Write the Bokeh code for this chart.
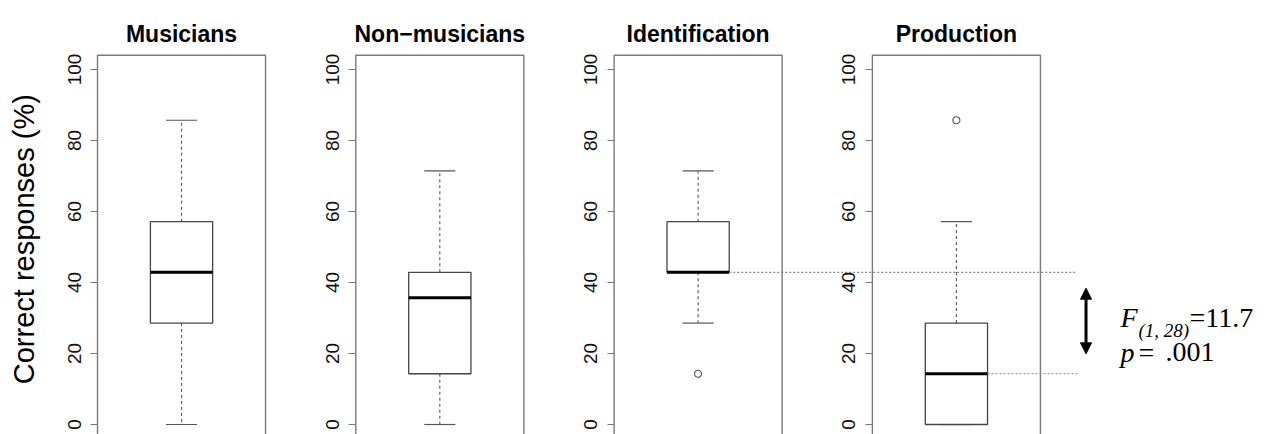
import math
from bokeh.plotting import figure
from bokeh.models import Range1d, LinearAxis, FixedTicker, Label, Arrow, NormalHead
from bokeh.core.properties import value
from bokeh.embed import file_html
from bokeh.resources import INLINE

# ---------------- data ----------------
groups = ["Musicians", "Non\u2212musicians", "Identification", "Production"]
whisker_low = [0.0, 0.0, 28.57, 0.0]
q1 = [28.57, 14.29, 42.86, 0.0]
median = [42.86, 35.71, 42.86, 14.29]
q3 = [57.14, 42.86, 57.14, 28.57]
whisker_high = [85.71, 71.43, 71.43, 57.14]
outlier_panel = [2, 3]
outlier_value = [14.29, 85.71]
y_ticks = [0, 20, 40, 60, 80, 100]
y_label = "Correct responses (%)"
compare_panels = [2, 3]          # Identification vs Production (medians compared)
stat_f_df = "(1, 28)"
stat_f_value = "=11.7"
stat_p_value = ".001"
arrow_range = [19.9, 38.4]

# ---------------- layout ----------------
W, H = 1273, 434
PX_PER_X = 155.6
PX_PER_Y = 3.55
SPACING = 1.66
centers = [1 + i * SPACING for i in range(len(groups))]
X0 = 0.46 - 97 / PX_PER_X
X1 = X0 + W / PX_PER_X
Y0 = -(H - 424) / PX_PER_Y
Y1 = 424 / PX_PER_Y
HALF_FRAME = 0.54
HALF_BOX = 0.2
HALF_CAP = 0.1

SANS = "Liberation Sans"
SERIF = "Liberation Serif"

p = figure(width=W, height=H, x_range=Range1d(X0, X1), y_range=Range1d(Y0, Y1),
           output_backend="svg", toolbar_location=None,
           x_axis_location=None, y_axis_location=None,
           min_border=0, min_border_left=0, min_border_right=0,
           min_border_top=0, min_border_bottom=0)
p.outline_line_color = None
p.grid.grid_line_color = None
p.background_fill_color = "white"
p.border_fill_color = "white"

# panel frames
p.quad(left=[c - HALF_FRAME for c in centers], right=[c + HALF_FRAME for c in centers],
       bottom=[-4.0] * len(centers), top=[104.0] * len(centers),
       fill_color=None, line_color="#7a7a7a", line_width=1.4)

# y axes, one per panel
for c in centers:
    ax = LinearAxis(fixed_location=c - HALF_FRAME, ticker=FixedTicker(ticks=y_ticks))
    ax.bounds = (0, 100)
    ax.axis_line_color = None
    ax.major_tick_out = 7
    ax.major_tick_in = 0
    ax.minor_tick_out = 0
    ax.minor_tick_in = 0
    ax.major_tick_line_color = "#7a7a7a"
    ax.major_tick_line_width = 1.2
    ax.major_label_orientation = "parallel"
    ax.major_label_standoff = 10
    ax.major_label_text_font = SANS
    ax.major_label_text_font_size = "19px"
    ax.major_label_text_color = "#111111"
    p.add_layout(ax, "left")

# whiskers (dashed)
p.segment(x0=centers, y0=q3, x1=centers, y1=whisker_high,
          line_color="#555555", line_width=1.1, line_dash="3 3")
p.segment(x0=centers, y0=q1, x1=centers, y1=whisker_low,
          line_color="#555555", line_width=1.1, line_dash="3 3")
# caps
p.segment(x0=[c - HALF_CAP for c in centers], y0=whisker_high,
          x1=[c + HALF_CAP for c in centers], y1=whisker_high,
          line_color="#555555", line_width=1.2)
p.segment(x0=[c - HALF_CAP for c in centers], y0=whisker_low,
          x1=[c + HALF_CAP for c in centers], y1=whisker_low,
          line_color="#555555", line_width=1.2)
# boxes
p.quad(left=[c - HALF_BOX for c in centers], right=[c + HALF_BOX for c in centers],
       bottom=q1, top=q3, fill_color="white", line_color="#444444", line_width=1.3)
# medians
p.segment(x0=[c - HALF_BOX for c in centers], y0=median,
          x1=[c + HALF_BOX for c in centers], y1=median,
          line_color="black", line_width=3)
# outliers
p.scatter(x=[centers[i] for i in outlier_panel], y=outlier_value, marker="circle",
          size=7, fill_color=None, line_color="#555555", line_width=1.1)

# titles
p.text(x=centers, y=[110.1] * len(centers), text=groups,
       text_font=value(SANS), text_font_style="bold", text_font_size="23px",
       text_align="center", text_baseline="alphabetic", text_color="black")

# y label
p.add_layout(Label(x=X0 + 23 / PX_PER_X, y=52.2, text=y_label, angle=math.pi / 2,
                   text_font=SANS, text_font_size="29px", text_align="center",
                   text_baseline="alphabetic", text_color="black"))

# comparison lines (dotted) at the medians
ia, ib = compare_panels
p.segment(x0=[centers[ia] + HALF_BOX, centers[ib] + HALF_BOX],
          y0=[median[ia], median[ib]],
          x1=[centers[ib] + 0.765, centers[ib] + 0.785],
          y1=[median[ia], median[ib]],
          line_color="#888888", line_width=1.1, line_dash="2 2")

# double-headed arrow
arr_x = centers[ib] + 0.833
p.add_layout(Arrow(x_start=arr_x, y_start=arrow_range[0], x_end=arr_x, y_end=arrow_range[1],
                   line_width=3, line_color="black",
                   start=NormalHead(size=11, fill_color="black", line_color="black"),
                   end=NormalHead(size=11, fill_color="black", line_color="black")))

# statistics text
tx = centers[ib] + 1.054
p.add_layout(Label(x=tx, y=30.2, text="F", text_font=SERIF, text_font_style="italic",
                   text_font_size="28px", text_baseline="alphabetic", text_color="black"))
p.add_layout(Label(x=tx, y=30.2, x_offset=18, y_offset=-13, text=stat_f_df, text_font=SERIF,
                   text_font_style="italic", text_font_size="19px",
                   text_baseline="alphabetic", text_color="black"))
p.add_layout(Label(x=tx, y=30.2, x_offset=69, text=stat_f_value, text_font=SERIF,
                   text_font_size="28px", text_baseline="alphabetic", text_color="black"))
p.add_layout(Label(x=tx, y=20.4, text="p", text_font=SERIF, text_font_style="italic",
                   text_font_size="28px", text_baseline="alphabetic", text_color="black"))
p.add_layout(Label(x=tx, y=20.4, x_offset=18, text="=", text_font=SERIF,
                   text_font_size="28px", text_baseline="alphabetic", text_color="black"))
p.add_layout(Label(x=tx, y=20.4, x_offset=45, text=stat_p_value, text_font=SERIF,
                   text_font_size="28px", text_baseline="alphabetic", text_color="black"))

open("out.html", "w").write(file_html(p, INLINE))
